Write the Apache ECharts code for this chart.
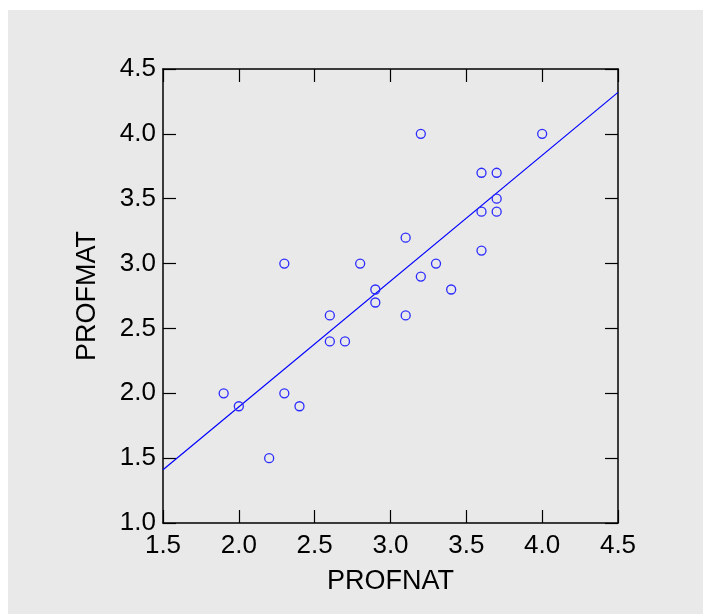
<!DOCTYPE html>
<html>
<head>
<meta charset="utf-8">
<script src="https://cdn.jsdelivr.net/npm/echarts@6/dist/echarts.min.js"></script>
<style>
  html, body { margin: 0; padding: 0; background: #fff; }
  #main { width: 703px; height: 614px; }
</style>
</head>
<body>
<div id="main"></div>
<script>
// PROFNAT / PROFMAT pairs
const profnat = [1.9, 2.0, 2.2, 2.3, 2.4, 2.3, 2.6, 2.6, 2.7, 2.8, 2.9, 2.9, 3.1, 3.1, 3.2, 3.2, 3.3, 3.4, 3.6, 3.7, 3.6, 3.7, 3.7, 3.6, 4.0];
const profmat = [2.0, 1.9, 1.5, 2.0, 1.9, 3.0, 2.6, 2.4, 2.4, 3.0, 2.8, 2.7, 3.2, 2.6, 2.9, 4.0, 3.0, 2.8, 3.7, 3.7, 3.4, 3.5, 3.4, 3.1, 4.0];
// fitted line end points
const fitX = [1.5, 4.5];
const fitY = [1.41, 4.32];

const points = profnat.map((x, i) => [x, profmat[i]]);
const fitLine = fitX.map((x, i) => [x, fitY[i]]);

const chart = echarts.init(document.getElementById('main'));
const font = 'Liberation Sans, Arial, sans-serif';

const axisCommon = {
  type: 'value',
  min: 1.0,
  max: 4.5,
  interval: 0.5,
  axisLine: { show: true, onZero: false, lineStyle: { color: '#000', width: 1.5 } },
  axisTick: { show: true, inside: true, length: 13, lineStyle: { color: '#000', width: 1.2 } },
  splitLine: { show: false },
  axisLabel: {
    color: '#000',
    fontFamily: font,
    fontSize: 26,
    formatter: v => v.toFixed(1)
  }
};

chart.setOption({
  backgroundColor: '#fff',
  animation: false,
  graphic: [{
    type: 'rect',
    z: -10,
    silent: true,
    shape: { x: 8, y: 10, width: 695, height: 604 },
    style: { fill: '#e9e9e9' }
  }],
  grid: { left: 163, right: 85, top: 69, bottom: 91 },
  xAxis: [
    Object.assign({}, axisCommon, {
      min: 1.5,
      position: 'bottom',
      name: 'PROFNAT',
      nameLocation: 'middle',
      nameGap: 45,
      nameTextStyle: { color: '#000', fontFamily: font, fontSize: 27 },
      axisLabel: Object.assign({}, axisCommon.axisLabel, { margin: 10 })
    }),
    Object.assign({}, axisCommon, {
      min: 1.5,
      position: 'top',
      axisLabel: { show: false }
    })
  ],
  yAxis: [
    Object.assign({}, axisCommon, {
      position: 'left',
      name: 'PROFMAT',
      nameLocation: 'middle',
      nameGap: 62,
      nameTextStyle: { color: '#000', fontFamily: font, fontSize: 27 },
      axisLabel: Object.assign({}, axisCommon.axisLabel, { margin: 7 })
    }),
    Object.assign({}, axisCommon, {
      position: 'right',
      axisLabel: { show: false }
    })
  ],
  series: [
    {
      type: 'line',
      data: fitLine,
      showSymbol: false,
      lineStyle: { color: '#0000ff', width: 1.2 },
      silent: true
    },
    {
      type: 'scatter',
      data: points,
      symbol: 'circle',
      symbolSize: 9,
      itemStyle: { color: 'rgba(0,0,0,0)', borderColor: '#2b2bff', borderWidth: 1.3, opacity: 1 },
      z: 3
    }
  ]
});
</script>
</body>
</html>
